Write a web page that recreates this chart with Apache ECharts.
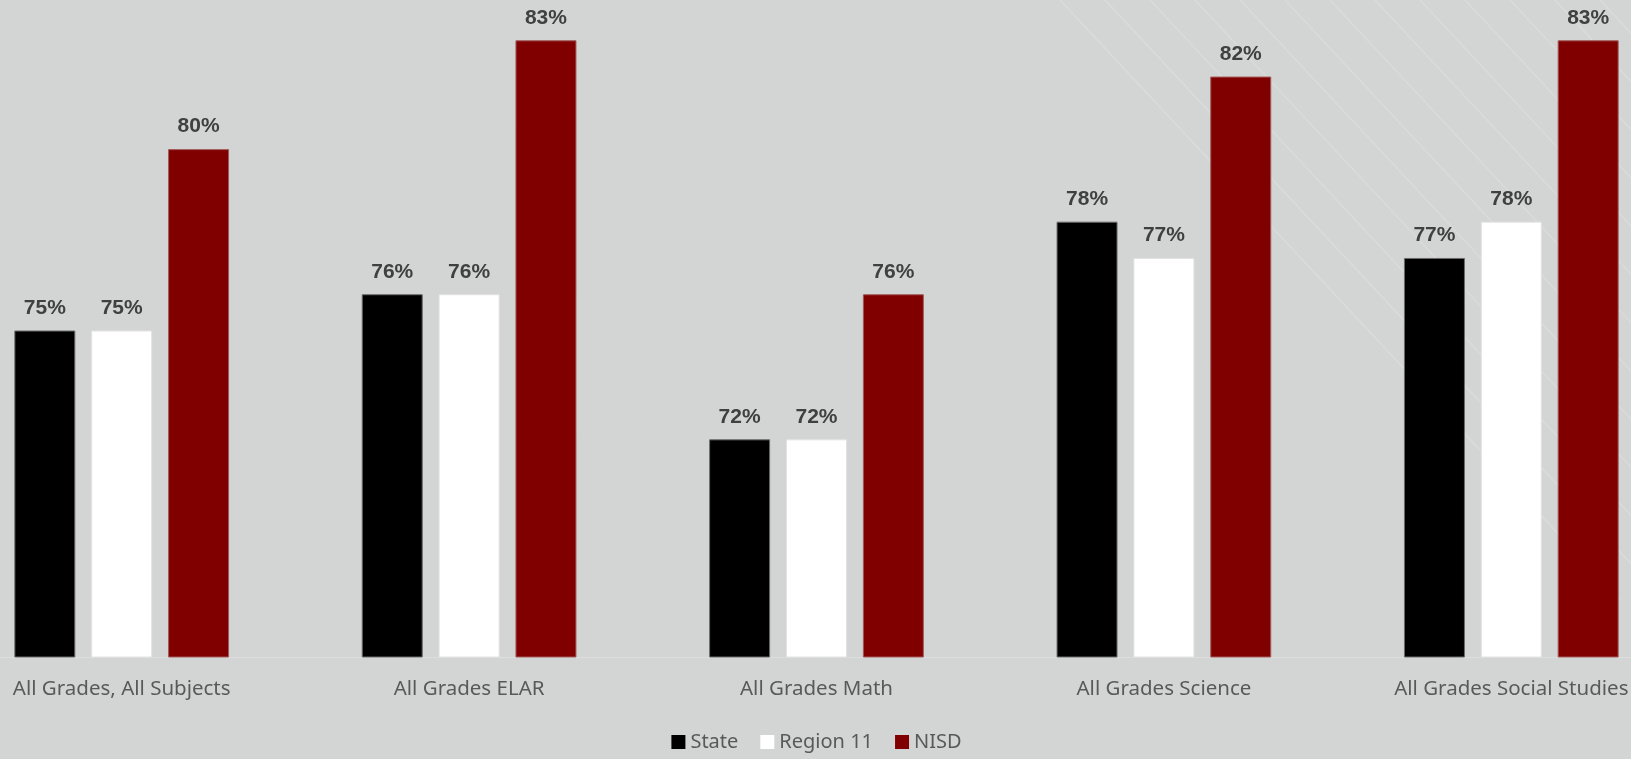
<!DOCTYPE html>
<html><head><meta charset="utf-8">
<script src="https://cdn.jsdelivr.net/npm/echarts@6/dist/echarts.min.js"></script>
<style>html,body{margin:0;padding:0;background:#d3d5d4;overflow:hidden;width:1631px;height:759px;}
#wrap{position:relative;width:1631px;height:759px;overflow:hidden;}
#c{position:absolute;left:-52px;top:0;width:1737px;height:759px;}</style>
</head><body><div id="wrap"><div id="c"></div></div>
<script>
const categories = ['All Grades, All Subjects','All Grades ELAR','All Grades Math','All Grades Science','All Grades Social Studies'];
const stateVals = [75, 76, 72, 78, 77];
const regionVals = [75, 76, 72, 77, 78];
const nisdVals = [80, 83, 76, 82, 83];
const seriesNames = ['State','Region 11','NISD'];
const colors = ['#000000','#ffffff','#800000'];
const borders = ['#6b6b6b','#e2e2e2','#a35a5a'];

const chart = echarts.init(document.getElementById('c'), null, {renderer:'canvas'});
const lbl = {show:true, position:'top', distance:12, formatter:'{c}%', fontFamily:'Liberation Sans', fontWeight:'bold', fontSize:21, color:'#404040'};
const mk = (i, data) => ({
  name: seriesNames[i], type:'bar', data, barWidth:61, barGap:'26%',
  itemStyle:{color:colors[i], borderColor:borders[i], borderWidth:1}, label:lbl, emphasis:{disabled:true}
});
// faint decorative diagonal stripes (background texture, top right)
const stripes = [];
for (let k = 0; k < 14; k++) {
  const x0 = 52 + 1060 + k * 45;
  stripes.push({type:'line', silent:true, z:-1,
    shape:{x1:x0, y1:0, x2:x0 + 560, y2:600},
    style:{stroke:'rgba(255,255,255,0.16)', lineWidth:1.5}});
}
chart.setOption({
  backgroundColor:'#d3d5d4',
  animation:false,
  graphic: stripes,
  grid:{left:0, right:0, top:4, bottom:102, containLabel:false},
  legend:{
    bottom:2, left:'center', itemWidth:14, itemHeight:14, itemGap:22,
    icon:'rect',
    itemStyle:{borderWidth:0},
    textStyle:{fontFamily:'Noto Sans', fontSize:20, color:'#595959'},
    data: seriesNames
  },
  xAxis:{
    type:'category', data:categories,
    axisLine:{show:true, lineStyle:{color:'#dcdddc', width:1}},
    axisTick:{show:false},
    axisLabel:{interval:0, margin:22, fontFamily:'Noto Sans', fontSize:20.5, color:'#595959'}
  },
  yAxis:{type:'value', min:66, max:84, show:false, splitLine:{show:false}},
  series:[ mk(0, stateVals), mk(1, regionVals), mk(2, nisdVals) ]
});
</script></body></html>
